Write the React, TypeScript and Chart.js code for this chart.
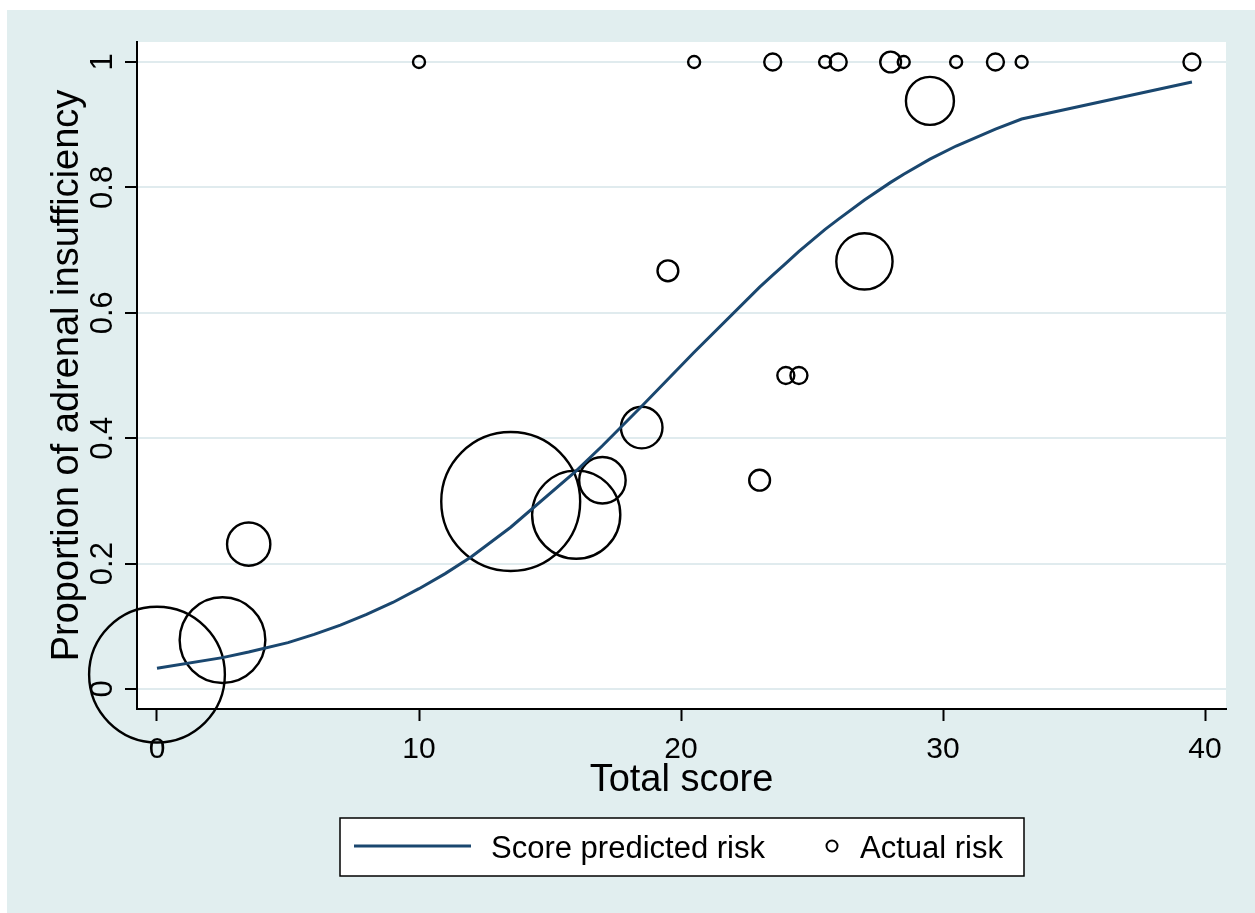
import React, { useEffect, useRef } from "react";
import { Chart, registerables } from "chart.js";

Chart.register(...registerables);

// ---- data ----
const xTickValues = [0, 10, 20, 30, 40];
const xTickLabels = ["0", "10", "20", "30", "40"];
const yTickValues = [0, 0.2, 0.4, 0.6, 0.8, 1];
const yTickLabels = ["0", "0.2", "0.4", "0.6", "0.8", "1"];

// observed proportions (bubbles), bubble size by number of patients
const scores = [0, 2.5, 3.5, 10, 13.5, 16, 17, 18.5, 19.5, 20.5, 23, 23.5, 24, 24.5, 25.5, 26, 27, 28, 28.5, 29.5, 30.5, 32, 33, 39.5];
const actualRisk = [0.023, 0.078, 0.231, 1, 0.299, 0.278, 0.333, 0.417, 0.667, 1, 0.333, 1, 0.5, 0.5, 1, 1, 0.682, 1, 1, 0.938, 1, 1, 1, 1];
const patientCounts = [128, 51, 13, 1, 134, 54, 15, 12, 3, 1, 3, 2, 2, 2, 1, 2, 22, 3, 1, 16, 1, 2, 1, 2];

// score predicted risk (line)
const predScores = [0, 2.5, 3.5, 5, 6, 7, 8, 9, 10, 11, 12, 13.5, 16, 17, 18.5, 19.5, 20.5, 23, 23.5, 24, 24.5, 25.5, 26, 27, 28, 28.5, 29.5, 30.5, 32, 33, 39.5];
const predRisk = [0.033, 0.05, 0.059, 0.074, 0.087, 0.102, 0.119, 0.138, 0.16, 0.184, 0.211, 0.258, 0.348, 0.388, 0.451, 0.494, 0.537, 0.641, 0.66, 0.679, 0.698, 0.733, 0.749, 0.78, 0.808, 0.821, 0.845, 0.866, 0.893, 0.909, 0.968];

const xTitle = "Total score";
const yTitle = "Proportion of adrenal insufficiency";

// ---- styles ----
const FONT = "'Liberation Sans', Arial, Helvetica, sans-serif";
const BG = "#e1eeef";
const GRID = "#e0ebee";
const LINE = "#1a476f";
const W = 1248;
const H = 903;

export default function App() {
  const ref = useRef<HTMLCanvasElement>(null);

  useEffect(() => {
    const canvas = ref.current;
    if (!canvas) return;

    const plotBg = {
      id: "plotBg",
      beforeDraw(chart: any) {
        const { ctx, chartArea: a } = chart;
        ctx.save();
        ctx.fillStyle = "#ffffff";
        ctx.fillRect(a.left, a.top, a.right - a.left, a.bottom - a.top);
        ctx.restore();
      },
    };

    const boxLegend = {
      id: "boxLegend",
      afterDraw(chart: any) {
        const ctx = chart.ctx as CanvasRenderingContext2D;
        const ds = chart.data.datasets;
        const left = 333, top = 808, right = 1017, bottom = 866;
        const cy = (top + bottom) / 2;
        ctx.save();
        ctx.fillStyle = "#ffffff";
        ctx.fillRect(left, top, right - left, bottom - top);
        ctx.strokeStyle = "#000";
        ctx.lineWidth = 1.5;
        ctx.strokeRect(left, top, right - left, bottom - top);
        // line sample
        ctx.strokeStyle = LINE;
        ctx.lineWidth = 3;
        ctx.beginPath();
        ctx.moveTo(347, cy - 1);
        ctx.lineTo(464, cy - 1);
        ctx.stroke();
        ctx.fillStyle = "#000";
        ctx.font = `31px ${FONT}`;
        ctx.textBaseline = "alphabetic";
        ctx.textAlign = "left";
        ctx.fillText(ds[0].label, 484, cy + 11);
        // circle sample
        ctx.strokeStyle = "#000";
        ctx.lineWidth = 2;
        ctx.beginPath();
        ctx.arc(825, cy - 1, 5.5, 0, Math.PI * 2);
        ctx.stroke();
        ctx.fillText(ds[1].label, 853, cy + 11);
        ctx.restore();
      },
    };

    const chart = new Chart(canvas, {
      type: "bubble",
      data: {
        datasets: [
          {
            type: "line",
            label: "Score predicted risk",
            data: predScores.map((x, i) => ({ x, y: predRisk[i] })),
            borderColor: LINE,
            borderWidth: 3,
            pointRadius: 0,
            fill: false,
            tension: 0,
          } as any,
          {
            type: "bubble",
            label: "Actual risk",
            data: scores.map((x, i) => ({ x, y: actualRisk[i], r: 6 * Math.sqrt(patientCounts[i]) })),
            backgroundColor: "rgba(0,0,0,0)",
            borderColor: "#000",
            borderWidth: 2.4,
            hoverBorderWidth: 2.4,
            clip: false,
          } as any,
        ],
      },
      options: {
        animation: false,
        responsive: false,
        devicePixelRatio: 1,
        events: [],
        layout: { autoPadding: false, padding: { left: 0, top: 32, right: 29, bottom: 0 } },
        plugins: {
          legend: { display: false },
          tooltip: { enabled: false },
        },
        scales: {
          x: {
            type: "linear",
            min: -0.763,
            max: 40.8,
            afterFit: (s: any) => {
              s.height = 204;
            },
            afterBuildTicks: (s: any) => {
              s.ticks = xTickValues.map((v) => ({ value: v }));
            },
            ticks: {
              autoSkip: false,
              maxRotation: 0,
              minRotation: 0,
              padding: 11,
              color: "#000",
              font: { family: FONT, size: 30 },
              callback: (v: any) => {
                const i = xTickValues.indexOf(Number(v));
                return i >= 0 ? xTickLabels[i] : "";
              },
            },
            grid: {
              drawOnChartArea: false,
              drawTicks: true,
              tickLength: 12,
              tickColor: "#000",
              tickWidth: 2,
            },
            border: { display: true, color: "#000", width: 2 },
            title: {
              display: true,
              text: xTitle,
              color: "#000",
              font: { family: FONT, size: 38 },
              padding: { top: 0, bottom: 110 },
            },
          },
          y: {
            type: "linear",
            min: -0.0319,
            max: 1.0319,
            afterFit: (s: any) => {
              s.width = 130;
            },
            afterBuildTicks: (s: any) => {
              s.ticks = yTickValues.map((v) => ({ value: v }));
            },
            ticks: {
              autoSkip: false,
              minRotation: 90,
              maxRotation: 90,
              crossAlign: "center",
              padding: 0,
              color: "#000",
              font: { family: FONT, size: 31 },
              callback: (v: any) => {
                const i = yTickValues.findIndex((t) => Math.abs(t - Number(v)) < 1e-9);
                return i >= 0 ? yTickLabels[i] : "";
              },
            },
            grid: {
              drawOnChartArea: true,
              color: GRID,
              lineWidth: 2,
              drawTicks: true,
              tickLength: 12,
              tickColor: "#000",
              tickWidth: 2,
            },
            border: { display: true, color: "#000", width: 2 },
            title: {
              display: true,
              text: yTitle,
              color: "#000",
              font: { family: FONT, size: 38 },
              padding: { top: 38, bottom: 0 },
            },
          },
        },
      },
      plugins: [plotBg, boxLegend],
    } as any);

    return () => chart.destroy();
  }, []);

  return (
    <div
      style={{
        position: "absolute",
        left: 0,
        top: 0,
        width: 1255,
        height: 913,
        background: "#ffffff",
        overflow: "hidden",
      }}
    >
      <div style={{ position: "absolute", left: 7, top: 10, width: W, height: H, background: BG }}>
        <canvas ref={ref} width={W} height={H} style={{ display: "block", width: W, height: H }} />
      </div>
    </div>
  );
}
